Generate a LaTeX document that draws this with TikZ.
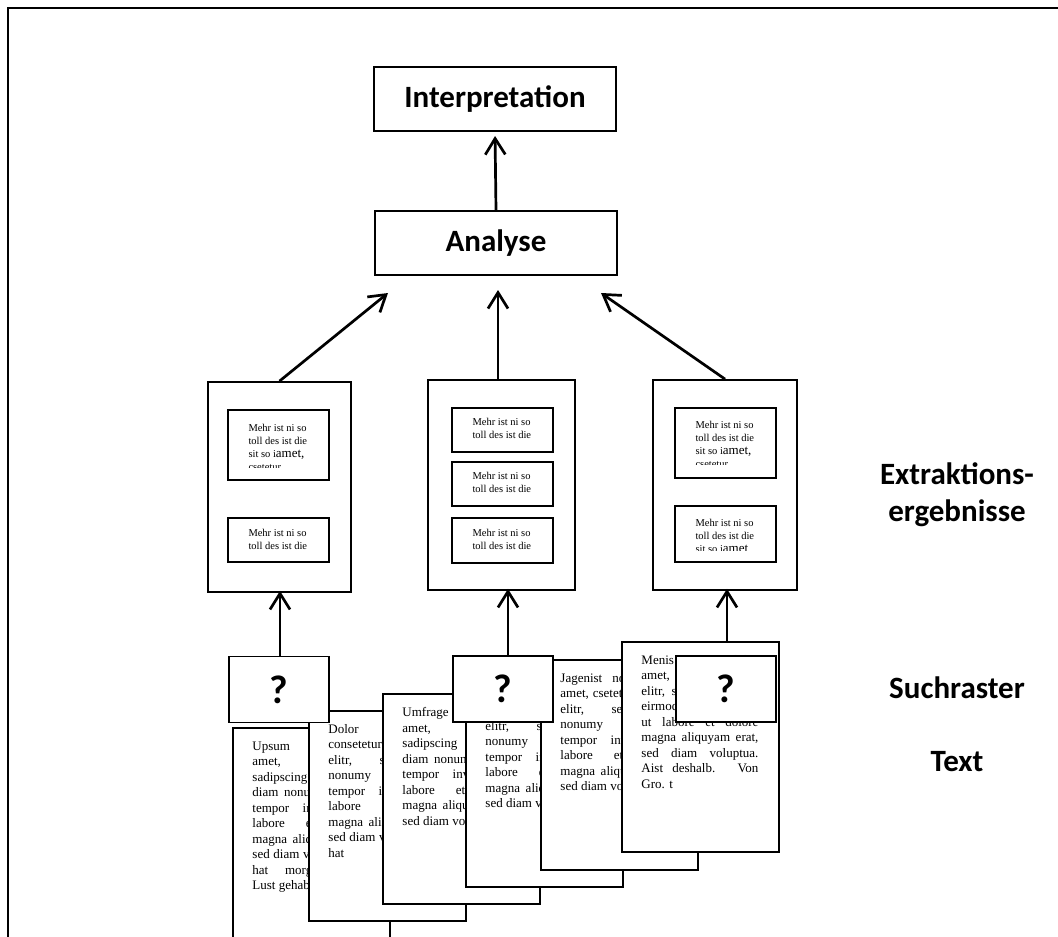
\documentclass[tikz,border=0pt]{standalone}
\usepackage{fontspec}
\setmainfont{Liberation Serif}
\newfontfamily\headfont{Carlito}
\usetikzlibrary{arrows.meta, calc}

\tikzset{
	stage/.style={draw, line width=2pt, minimum width=242pt, minimum height=64pt,
		font=\headfont\bfseries\fontsize{31}{36}\selectfont},
	resultbox/.style={draw, line width=1.8pt, minimum height=210pt},
	snippet/.style={draw, line width=1.4pt, minimum width=101pt},
	snippettext/.style={anchor=north west, inner sep=0pt, align=left,
		font=\fontsize{10.5}{13}\selectfont},
	sheet/.style={draw, fill=white, line width=1.5pt, minimum width=157pt, minimum height=210pt},
	sheettext/.style={anchor=north west, inner sep=0pt, text width=117pt, align=justify,
		font=\fontsize{13}{15.5}\selectfont},
	query/.style={draw, fill=white, line width=1.8pt, minimum width=100pt, minimum height=66pt,
		font=\headfont\bfseries\fontsize{40}{40}\selectfont},
	level/.style={align=center, font=\headfont\bfseries\fontsize{31}{37}\selectfont},
	arr/.style={-{Straight Barb[length=16pt,width=20pt]}, line width=2.7pt},
}

\begin{document}
\begin{tikzpicture}[x=1pt, y=-1pt]
	\useasboundingbox (0,0) rectangle (1058,937);
	\clip (0,0) rectangle (1058,937);

	% frame
	\draw[line width=2.5pt] (8,960) -- (8,8) -- (1080,8);

	% levels
	\node[stage] (interp) at (495,99) {Interpretation};
	\node[stage] (analyse) at (496,243) {Analyse};
	\node[level] (lblext) at (957,495) {Extraktions-\\ergebnisse};
	\node[level] (lblquery) at (957,688) {Suchraster};
	\node[level] (lbltext) at (957,762) {Text};

	% extraction results
	\node[resultbox, minimum width=143pt] (e1) at (279.5,487) {};
	\node[resultbox, minimum width=147pt] (e2) at (501.5,485) {};
	\node[resultbox, minimum width=144pt] (e3) at (725,485) {};

	\node[snippet, minimum height=70pt] (s11) at (278.5,445) {};
	\node[snippet, minimum height=44pt] (s12) at (278.5,540) {};
	\node[snippet, minimum height=44pt] (s21) at (502.5,430) {};
	\node[snippet, minimum height=44pt] (s22) at (502.5,484) {};
	\node[snippet, minimum height=45pt] (s23) at (502.5,540.5) {};
	\node[snippet, minimum height=70pt] (s31) at (725.5,443) {};
	\node[snippet, minimum height=56pt] (s32) at (725.5,534) {};

	% snippet texts, the longer ones cut off at the bottom
	\begin{scope}
		\clip (s11.north west) rectangle ($(s11.north east)+(0,58.5)$);
		\node[snippettext] (t11) at ($(s11.north west)+(21,15)$) {Mehr ist ni so\\toll des ist die\\sit so i{\fontsize{13}{13}\selectfont amet,}\\csetetur};
	\end{scope}
	\node[snippettext] (t12) at ($(s12.north west)+(21,12)$) {Mehr ist ni so\\toll des ist die};
	\node[snippettext] (t21) at ($(s21.north west)+(21,11)$) {Mehr ist ni so\\toll des ist die};
	\node[snippettext] (t22) at ($(s22.north west)+(21,11)$) {Mehr ist ni so\\toll des ist die};
	\node[snippettext] (t23) at ($(s23.north west)+(21,12)$) {Mehr ist ni so\\toll des ist die};
	\begin{scope}
		\clip (s31.north west) rectangle ($(s31.north east)+(0,57.5)$);
		\node[snippettext] (t31) at ($(s31.north west)+(21,14)$) {Mehr ist ni so\\toll des ist die\\sit so i{\fontsize{13}{13}\selectfont amet,}\\csetetur};
	\end{scope}
	\begin{scope}
		\clip (s32.north west) rectangle ($(s32.north east)+(0,45.5)$);
		\node[snippettext] (t32) at ($(s32.north west)+(21,14)$) {Mehr ist ni so\\toll des ist die\\sit so i{\fontsize{13}{13}\selectfont amet}};
	\end{scope}

	% arrows upwards
	\coordinate (inL) at (388,293);
	\coordinate (inM) at (498,290);
	\coordinate (inR) at (601,293);
	\draw[arr, shorten >=4pt] (analyse.north) -- (interp.south);
	\draw[arr] (e1.north) -- (inL);
	\draw[arr] (inM |- e2.north) -- (inM);
	\draw[arr] (e3.north) -- (inR);

	% text sheets
	\node[sheet] (p1) at (311.5,833) {};
	\node[sheettext] (c1) at ($(p1.north west)+(20,14)$) {Upsum dolor sit\linebreak amet, consetetur\linebreak sadipscing elitr, sed\linebreak diam nonumy eirmod\linebreak tempor invidunt ut\linebreak labore et dolore\linebreak magna aliquyam erat,\linebreak sed diam voluptua. Er\linebreak hat morgen keine\linebreak Lust gehabt.};
	\node[sheet] (p2) at (387.5,816) {};
	\node[sheettext] (c2) at ($(p2.north west)+(20,14)$) {Dolor sit amet,\linebreak consetetur sadipscing\linebreak elitr, sed diam\linebreak nonumy eirmod\linebreak tempor invidunt ut\linebreak labore et dolore\linebreak magna aliquyam erat,\linebreak sed diam voluptua. Er\linebreak hat};
	\node[sheet] (p3) at (461.5,799) {};
	\node[sheettext] (c3) at ($(p3.north west)+(20,14)$) {Umfrage dolor sit\linebreak amet, consetetur\linebreak sadipscing elitr, sed\linebreak diam nonumy eirmod\linebreak tempor invidunt ut\linebreak labore et dolore\linebreak magna aliquyam erat,\linebreak sed diam voluptua.};
	\node[sheet] (p4) at (544.5,782) {};
	\node[sheettext] (c4) at ($(p4.north west)+(20,14)$) {Ipsum dolor sit\linebreak amet, consetetur\linebreak elitr, sed diam\linebreak nonumy eirmod\linebreak tempor invidunt ut\linebreak labore et dolore\linebreak magna aliquyam erat,\linebreak sed diam voluptua.};
	\node[sheet] (p5) at (619.5,765) {};
	\node[sheettext] (c5) at ($(p5.north west)+(20,14)$) {Jagenist nonumy sit\linebreak amet, csetetur dolor et\linebreak elitr, sed diam\linebreak nonumy eirmod\linebreak tempor invidunt ut\linebreak labore et dolore\linebreak magna aliquyam erat,\linebreak sed diam voluptua.};
	\node[sheet] (p6) at (700.5,747) {};
	\node[sheettext] (c6) at ($(p6.north west)+(20,14)$) {Menis ipsum dolor\linebreak amet, consetetur\linebreak elitr, sed diam ipsum\linebreak eirmod tempor ipsum\linebreak ut labore et dolore\linebreak magna aliquyam erat,\linebreak sed diam voluptua.\linebreak Aist deshalb. Von\linebreak Gro. t};

	% search grids on top of the sheets
	\node[query] (q1) at (279,689.5) {?};
	\node[query] (q2) at (503,689) {?};
	\node[query] (q3) at (726,689) {?};
	\draw[arr, shorten >=-2pt] ([xshift=1pt]q1.north) -- ([xshift=1pt]q1.north |- e1.south);
	\draw[arr, shorten >=-2pt] ([xshift=5pt]q2.north) -- ([xshift=5pt]q2.north |- e2.south);
	\draw[arr, shorten >=-2pt] ([xshift=1pt]q3.north |- p6.north) -- ([xshift=1pt]q3.north |- e3.south);
\end{tikzpicture}
\end{document}
